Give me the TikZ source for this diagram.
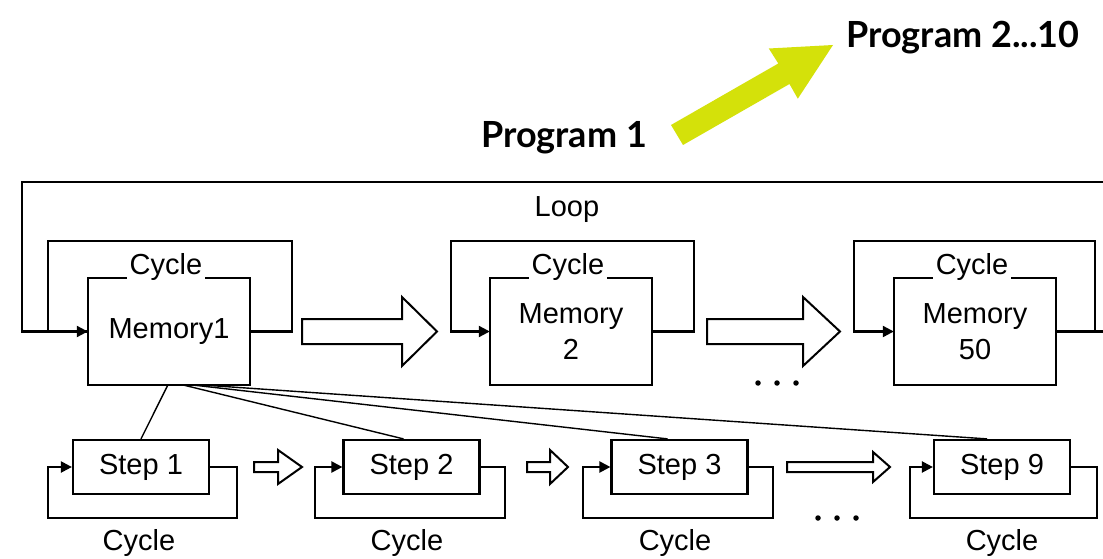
\documentclass[tikz,border=0pt]{standalone}
\usepackage{fontspec}
\setmainfont{Liberation Sans}
\newfontfamily\progfont{Lato}
\usetikzlibrary{arrows.meta,calc}
\definecolor{yel}{RGB}{212,225,10}
\tikzset{
 ln/.style={line width=2.2pt, line join=miter},
 cyc/.style={ln, -{Triangle[length=11pt,width=11pt]}},
 membox/.style={minimum width=162pt, minimum height=106pt, inner sep=0pt, align=center, font=\fontsize{29}{36}\selectfont},
 stepbox/.style={draw, line width=2.2pt, minimum width=136pt, minimum height=54pt, inner sep=0pt, font=\fontsize{29}{32}\selectfont},
 lbl/.style={inner sep=3pt, font=\fontsize{29}{32}\selectfont},
 hollow/.style={draw, line width=2pt, fill=white, line join=miter},
 fan/.style={line width=1.4pt},
 prog/.style={inner sep=0pt, font=\progfont\bfseries\fontsize{36}{40}\selectfont},
 dotmark/.style={circle, fill, inner sep=0pt, minimum size=5.5pt},
}
\begin{document}
\begin{tikzpicture}[x=1pt,y=-1pt]
\useasboundingbox (0,0) rectangle (1103,559);
\fill[white] (0,0) rectangle (1103,559);
\clip (0,0) rectangle (1103,559);

% program labels and yellow arrow
\node[prog, anchor=base] (p1) at (564,147) {Program 1};
\node[prog, anchor=base] (p2) at (963,48) {Program 2...10};
\fill[yel] (683,145) -- (671,125) -- (778.3,63.5) -- (768.8,48.5) -- (833,45) -- (797.8,98.7) -- (789.5,84) -- cycle;

% memory boxes
\node[membox] (m1) at (169,331.5) {Memory1};
\node[membox] (m2) at (571,331.5) {Memory\\2};
\node[membox] (m50) at (975,331.5) {Memory\\50};

\node[lbl, anchor=base] (c1) at (166,274) {Cycle};
\node[lbl, anchor=base] (c2) at (568,274) {Cycle};
\node[lbl, anchor=base] (c50) at (972,274) {Cycle};
\node[lbl] (loop) at (567,210) {Loop};

\foreach \m/\c in {m1/c1, m2/c2, m50/c50}{
  \draw[ln] (\c.west |- \m.north) -- (\m.north west) -- (\m.south west) -- (\m.south east) -- (\m.north east) -- (\c.east |- \m.north);
}

% outer loop
\draw[ln] (m50.east) -- (1115,331.5) |- (22,182) |- (m1.west);
% cycles around memory boxes
\draw[cyc] (m1.east) -| (292,241) -| (48,331.5) -- (m1.west);
\draw[cyc] (m2.east) -| (694,241) -| (451,331.5) -- (m2.west);
\draw[cyc] (m50.east) -| (1095,241) -| (854,331.5) -- (m50.west);

% big hollow arrows
\draw[hollow] (302,319) -- (402,319) -- (402,297) -- (437,331.5) -- (402,366) -- (402,344) -- (302,344) -- cycle;
\draw[hollow] (707,319) -- (803,319) -- (803,297) -- (840,331.5) -- (803,366) -- (803,344) -- (707,344) -- cycle;
\foreach \x in {758,777,796} \node[dotmark] at (\x,383) {};

% step boxes
\node[stepbox] (s1) at (141,467) {Step 1};
\node[stepbox] (s2) at (411.5,467) {Step 2};
\node[stepbox] (s3) at (679.5,467) {Step 3};
\node[stepbox] (s9) at (1002,467) {Step 9};

\draw[cyc] (s1.east) -| (237,518) -| (48,467) -- (s1.west);
\draw[cyc] (s2.east) -| (505,518) -| (315,467) -- (s2.west);
\draw[cyc] (s3.east) -| (773,518) -| (583,467) -- (s3.west);
\draw[cyc] (s9.east) -| (1097,518) -| (910,467) -- (s9.west);

\node[lbl] (sc1) at (139,543) {Cycle};
\node[lbl] (sc2) at (407,543) {Cycle};
\node[lbl] (sc3) at (675,543) {Cycle};
\node[lbl] (sc9) at (1002,543) {Cycle};

% small hollow arrows
\draw[hollow] (254,462) -- (278,462) -- (278,450) -- (302,467) -- (278,484) -- (278,472) -- (254,472) -- cycle;
\draw[hollow] (527,462) -- (550,462) -- (550,450) -- (568,467) -- (550,484) -- (550,472) -- (527,472) -- cycle;
\draw[hollow] (787,462) -- (873,462) -- (873,452) -- (890,467) -- (873,482) -- (873,472) -- (787,472) -- cycle;
\foreach \x in {818,837,856} \node[dotmark] at (\x,518) {};

% fan lines from Memory1 to steps
\draw[fan] ([xshift=-1pt]m1.south) -- (s1.north);
\draw[fan] ([xshift=13pt]m1.south) -- ([xshift=-8pt]s2.north);
\draw[fan] ([xshift=21pt]m1.south) -- ([xshift=-12pt]s3.north);
\draw[fan] ([xshift=29pt]m1.south) -- ([xshift=-15pt]s9.north);
\end{tikzpicture}
\end{document}
